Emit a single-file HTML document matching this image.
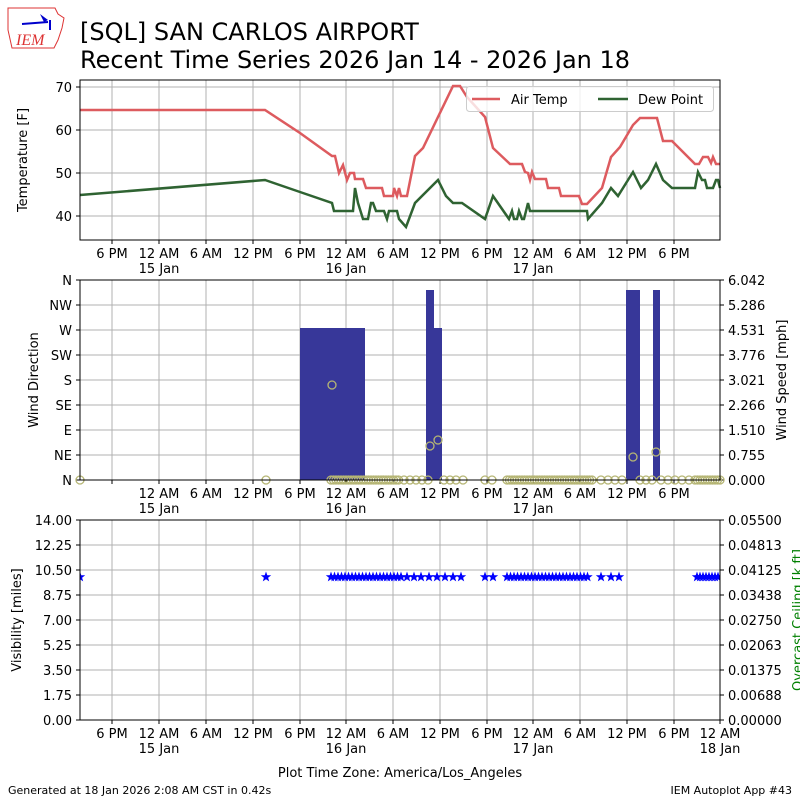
<!DOCTYPE html>
<html><head><meta charset="utf-8"><style>
body{margin:0;background:#fff;width:800px;height:800px;overflow:hidden}
svg text{font-family:"DejaVu Sans","Liberation Sans",sans-serif}
</style></head><body>
<svg id="s" width="800" height="800" xmlns="http://www.w3.org/2000/svg">
<rect width="800" height="800" fill="#fff"/>
<!-- logo -->
<path d="M8,8 L55,8 L58,14 L64,18 L62,28 L58,40 L54,48 L12,48 L8,30 Z" fill="none" stroke="#d33" stroke-width="1"/>
<line x1="22" y1="24" x2="48" y2="22" stroke="#00c" stroke-width="2"/>
<path d="M40,14 L48,20 L44,22 Z" fill="#00c"/>
<line x1="50" y1="20" x2="50" y2="30" stroke="#00c" stroke-width="2"/>
<text x="16" y="45" font-family="Liberation Serif" font-style="italic" font-size="16" fill="#d33" style="font-family:'Liberation Serif',serif">IEM</text>
<text x="80" y="40" font-size="24">[SQL] SAN CARLOS AIRPORT</text>
<text x="80" y="68" font-size="24">Recent Time Series 2026 Jan 14 - 2026 Jan 18</text>
<g id="g"></g>
<text x="8" y="794" font-size="11">Generated at 18 Jan 2026 2:08 AM CST in 0.42s</text>
<text x="792" y="794" font-size="11" text-anchor="end">IEM Autoplot App #43</text>
</svg>
<script>
const g=document.getElementById('g');let h='';
const xt=[112,159,206,253,300,346,393,440,487,533,580,627,674];
const xl=['6 PM','12 AM','6 AM','12 PM','6 PM','12 AM','6 AM','12 PM','6 PM','12 AM','6 AM','12 PM','6 PM'];
function xaxis(y0,y1,labels,extra){
 xt.forEach((x,i)=>{h+=`<line x1="${x}" y1="${y0}" x2="${x}" y2="${y1}" stroke="#b0b0b0" stroke-width="1"/>`;
 h+=`<line x1="${x}" y1="${y1}" x2="${x}" y2="${y1+4}" stroke="#000"/>`;
 if(labels&&labels[i]!==null)h+=`<text x="${x}" y="${y1+18}" font-size="13" text-anchor="middle">${labels[i]}</text>`;});
 [[159,'15 Jan'],[346,'16 Jan'],[533,'17 Jan']].forEach(a=>h+=`<text x="${a[0]}" y="${y1+33}" font-size="13" text-anchor="middle">${a[1]}</text>`);
}
// Panel 1
[216,173,130,87].forEach((y,i)=>{h+=`<line x1="80" y1="${y}" x2="720" y2="${y}" stroke="#b0b0b0"/><line x1="76" y1="${y}" x2="80" y2="${y}" stroke="#000"/><text x="72" y="${y+5}" font-size="13" text-anchor="end">${40+i*10}</text>`});
xaxis(80,240,xl);
const red=[[80,110],[265,110],[300,133],[332,156],[335,156],[339,173],[343,165],[347,180],[350,173],[354,173],[355,179],[363,179],[366,188],[382,188],[384,196],[393,196],[394,188],[397,196],[399,188],[401,196],[407,196],[415,156],[423,148],[453,86],[460,86],[467,97],[485,117],[493,148],[510,164],[522,164],[525,172],[528,173],[530,180],[532,172],[535,179],[546,179],[548,188],[559,188],[561,196],[579,196],[582,204],[587,204],[602,188],[611,157],[620,147],[633,125],[640,118],[657,118],[663,141],[672,141],[695,164],[699,164],[703,157],[708,157],[711,163],[713,157],[716,164],[720,164]];
const grn=[[80,195],[265,180],[300,192],[332,203],[334,211],[353,211],[355,188],[358,203],[363,219],[368,219],[371,203],[373,203],[376,211],[384,211],[387,219],[389,211],[397,211],[399,219],[406,227],[415,203],[438,180],[446,196],[453,203],[462,203],[485,219],[493,196],[509,219],[512,211],[514,219],[517,219],[519,211],[522,219],[524,219],[528,203],[530,211],[587,211],[588,219],[602,203],[611,188],[618,196],[633,172],[641,188],[648,180],[656,164],[663,180],[672,188],[695,188],[698,172],[702,180],[705,180],[707,188],[713,188],[716,180],[718,180],[720,188]];
h+=`<polyline points="${red.join(' ')}" fill="none" stroke="#dd5b5f" stroke-width="2.5"/>`;
h+=`<polyline points="${grn.join(' ')}" fill="none" stroke="#2f6332" stroke-width="2.5"/>`;
h+=`<rect x="466.5" y="86.5" width="247" height="25" fill="#fff" fill-opacity="0.8" stroke="#ccc" rx="3"/>`;
h+=`<line x1="472" y1="99" x2="500" y2="99" stroke="#dd5b5f" stroke-width="2.5"/><text x="511" y="104" font-size="13">Air Temp</text>`;
h+=`<line x1="598" y1="99" x2="628" y2="99" stroke="#2f6332" stroke-width="2.5"/><text x="638" y="104" font-size="13">Dew Point</text>`;
h+=`<rect x="80" y="80" width="640" height="160" fill="none" stroke="#000"/>`;
h+=`<text transform="translate(27,160) rotate(-90)" font-size="13" text-anchor="middle">Temperature [F]</text>`;
// Panel 2
const dirs=['N','NE','E','SE','S','SW','W','NW','N'];const sp=['0.000','0.755','1.510','2.266','3.021','3.776','4.531','5.286','6.042'];
for(let i=0;i<9;i++){const y=480-i*25;h+=`<line x1="80" y1="${y}" x2="720" y2="${y}" stroke="#b0b0b0"/><line x1="76" y1="${y}" x2="80" y2="${y}" stroke="#000"/><line x1="720" y1="${y}" x2="724" y2="${y}" stroke="#000"/><text x="72" y="${y+5}" font-size="13" text-anchor="end">${dirs[i]}</text><text x="728" y="${y+5}" font-size="13">${sp[i]}</text>`}
xaxis(280,480,[null,'12 AM','6 AM','12 PM','6 PM','12 AM','6 AM','12 PM','6 PM','12 AM','6 AM','12 PM','6 PM']);
[[300,328,65],[426,290,8],[434,328,8],[626,290,14],[653,290,7]].forEach(b=>h+=`<rect x="${b[0]}" y="${b[1]}" width="${b[2]}" height="${480-b[1]}" fill="#373799"/>`);
const circ=[[332,385],[430,446],[438,440],[633,457],[656,452],[80,480],[266,480]];
for(let x=331;x<=400;x+=2.5)circ.push([x,480]);
[404,410,416,422,428,444,450,456,463,485,492].forEach(x=>circ.push([x,480]));
for(let x=507;x<=592;x+=2.5)circ.push([x,480]);
[601,608,615,622,640,646,652,661,668,675,682,689].forEach(x=>circ.push([x,480]));
for(let x=695;x<=720;x+=2.5)circ.push([x,480]);
circ.forEach(c=>h+=`<circle cx="${c[0]}" cy="${c[1]}" r="4" fill="none" stroke="#b5b574" stroke-width="1.3"/>`);
h+=`<rect x="80" y="280" width="640" height="200" fill="none" stroke="#000"/>`;
h+=`<text transform="translate(38,380) rotate(-90)" font-size="13" text-anchor="middle">Wind Direction</text>`;
h+=`<text transform="translate(786,380) rotate(-90)" font-size="13" text-anchor="middle">Wind Speed [mph]</text>`;
// Panel 3
const vl=['0.00','1.75','3.50','5.25','7.00','8.75','10.50','12.25','14.00'];const cl=['0.00000','0.00688','0.01375','0.02063','0.02750','0.03438','0.04125','0.04813','0.05500'];
for(let i=0;i<9;i++){const y=720-i*25;h+=`<line x1="80" y1="${y}" x2="720" y2="${y}" stroke="#b0b0b0"/><line x1="76" y1="${y}" x2="80" y2="${y}" stroke="#000"/><line x1="720" y1="${y}" x2="724" y2="${y}" stroke="#000"/><text x="72" y="${y+5}" font-size="13" text-anchor="end">${vl[i]}</text><text x="728" y="${y+5}" font-size="13">${cl[i]}</text>`}
xaxis(520,720,xl);
h+=`<text x="720" y="753" font-size="13" text-anchor="middle" fill="#fff" stroke="#fff" stroke-width="6">18 Jan</text><text x="720" y="753" font-size="13" text-anchor="middle">18 Jan</text>`;
h+=`<line x1="720" y1="720" x2="720" y2="724" stroke="#000"/><text x="720" y="738" font-size="13" text-anchor="middle">12 AM</text>`;
const st=[80,266];for(let x=331;x<=402;x+=3.5)st.push(x);[407,414,421,429,437,445,453,461,485,493].forEach(x=>st.push(x));for(let x=507;x<=590;x+=3.5)st.push(x);[601,611,619].forEach(x=>st.push(x));for(let x=697;x<=720;x+=3)st.push(x);
function star(cx,cy,r){let p=[];for(let i=0;i<10;i++){const a=-Math.PI/2+i*Math.PI/5;const rr=i%2?r*0.4:r;p.push((cx+rr*Math.cos(a)).toFixed(1)+','+(cy+rr*Math.sin(a)).toFixed(1))}return p.join(' ')}
h+=`<svg x="80" y="520" width="640" height="200" overflow="hidden"><g transform="translate(-80,-520)">`;
st.forEach(x=>h+=`<polygon points="${star(x,577,5.5)}" fill="#0000ff"/>`);
h+=`</g></svg>`;
h+=`<rect x="80" y="520" width="640" height="200" fill="none" stroke="#000"/>`;
h+=`<text transform="translate(21,620) rotate(-90)" font-size="13" text-anchor="middle">Visibility [miles]</text>`;
h+=`<text transform="translate(802,620) rotate(-90)" font-size="13" text-anchor="middle" fill="#008000">Overcast Ceiling [k ft]</text>`;
h+=`<text x="400" y="777" font-size="13" text-anchor="middle">Plot Time Zone: America/Los_Angeles</text>`;
g.innerHTML=h;
</script>
</body></html>
